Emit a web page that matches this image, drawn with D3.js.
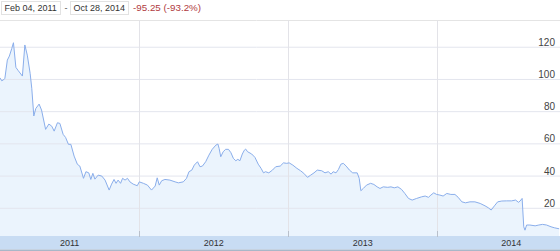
<!DOCTYPE html>
<html>
<head>
<meta charset="utf-8">
<script src="https://cdn.jsdelivr.net/npm/d3@7"></script>
<style>
  body { margin: 0; background: #fff; }
  svg { display: block; font-family: "Liberation Sans", Arial, sans-serif; }
</style>
</head>
<body>
<div id="chart"></div>
<script>
// closing prices
const dates = [
  "2011-01-24","2011-01-28","2011-02-01","2011-02-05","2011-02-11","2011-02-16","2011-02-22","2011-02-26","2011-03-04","2011-03-10",
  "2011-03-20","2011-03-26","2011-04-01","2011-04-08","2011-04-12","2011-04-17","2011-04-22","2011-04-30","2011-05-06","2011-05-16",
  "2011-05-24","2011-05-31","2011-06-06","2011-06-14","2011-06-20","2011-06-28","2011-07-04","2011-07-11","2011-07-17","2011-07-25",
  "2011-08-02","2011-08-08","2011-08-17","2011-08-23","2011-08-30","2011-09-04","2011-09-09","2011-09-14","2011-09-22","2011-10-01",
  "2011-10-09","2011-10-19","2011-10-25","2011-10-31","2011-11-05","2011-11-10","2011-11-16","2011-11-21","2011-11-27","2011-12-03",
  "2011-12-09","2011-12-17","2011-12-27",
  "2012-01-01","2012-01-11","2012-01-21","2012-01-31","2012-02-09","2012-02-14","2012-02-19","2012-02-25","2012-03-04","2012-03-16",
  "2012-03-29","2012-04-06","2012-04-18","2012-04-26","2012-05-02","2012-05-09","2012-05-15","2012-05-23","2012-05-29","2012-06-04",
  "2012-06-12","2012-06-20","2012-06-28","2012-07-07","2012-07-12","2012-07-15","2012-07-19","2012-07-25","2012-07-31","2012-08-07",
  "2012-08-13","2012-08-19","2012-08-25","2012-08-30","2012-09-04","2012-09-10","2012-09-15","2012-09-18","2012-09-23","2012-10-03",
  "2012-10-11","2012-10-19","2012-10-26","2012-11-01","2012-11-06","2012-11-14","2012-11-23","2012-12-01","2012-12-12","2012-12-20",
  "2012-12-28",
  "2013-01-03","2013-01-12","2013-01-22","2013-01-31","2013-02-08","2013-02-17","2013-02-25","2013-03-05","2013-03-13","2013-03-24",
  "2013-04-01","2013-04-09","2013-04-16","2013-04-21","2013-04-28","2013-05-04","2013-05-10","2013-05-16","2013-05-23","2013-05-31",
  "2013-06-08","2013-06-19","2013-06-24","2013-06-28","2013-07-04","2013-07-12","2013-07-22","2013-07-30","2013-08-07","2013-08-14",
  "2013-08-22","2013-09-02","2013-09-10","2013-09-18","2013-09-27","2013-10-06","2013-10-14","2013-10-23","2013-11-01","2013-11-12",
  "2013-11-24","2013-12-03","2013-12-11","2013-12-17","2013-12-24","2013-12-31",
  "2014-01-08","2014-01-16","2014-01-25","2014-02-04","2014-02-14","2014-02-22","2014-03-03","2014-03-12","2014-03-23","2014-04-04",
  "2014-04-17","2014-04-29","2014-05-07","2014-05-14","2014-05-22","2014-05-30","2014-06-09","2014-06-21","2014-07-03","2014-07-13",
  "2014-07-20","2014-07-24","2014-07-29","2014-08-02","2014-08-05","2014-08-09","2014-08-17","2014-08-30","2014-09-08","2014-09-17",
  "2014-09-27","2014-10-08","2014-10-16","2014-10-28"
];
const closes = [
  100.7, 98.9, 99.3, 100.4, 111.7, 114.2, 119.0, 122.5, 107.2, 105.1,
  101.8, 121.1, 114.8, 103.5, 94.2, 77.0, 81.7, 84.4, 80.7, 68.7,
  72.0, 70.7, 67.6, 72.8, 72.4, 65.6, 63.7, 59.4, 59.4, 52.1,
  47.0, 45.9, 38.3, 42.4, 41.7, 37.6, 41.4, 37.8, 40.3, 39.7,
  37.2, 31.0, 34.7, 37.6, 35.2, 37.2, 35.2, 38.3, 37.2, 38.3,
  36.1, 34.7, 33.7,
  36.1, 35.2, 34.1, 31.0, 33.5, 38.6, 34.1, 36.8, 37.6, 37.2,
  36.1, 35.5, 36.1, 38.3, 42.4, 43.4, 46.5, 48.6, 45.5, 45.9,
  48.6, 52.7, 56.3, 58.9, 59.6, 56.9, 51.7, 54.8, 56.3, 56.3,
  54.2, 50.7, 49.2, 50.1, 49.2, 53.4, 55.8, 56.5, 54.8, 53.4,
  51.3, 47.1, 44.5, 41.7, 42.4, 41.7, 43.4, 45.5, 45.9, 47.9,
  47.6,
  47.9, 46.5, 44.5, 43.0, 41.4, 38.9, 40.3, 41.7, 43.4, 43.0,
  41.7, 42.4, 40.9, 42.4, 41.7, 43.8, 47.1, 47.6, 45.9, 43.4,
  41.7, 41.7, 38.3, 30.6, 32.0, 34.1, 35.2, 34.5, 33.0, 32.0,
  33.0, 32.7, 33.0, 32.4, 33.0, 31.4, 28.9, 25.8, 24.8, 25.8,
  26.8, 27.3, 26.5, 27.9, 29.3, 28.3,
  27.9, 27.3, 28.9, 28.3, 28.3, 26.5, 23.7, 23.1, 23.7, 23.7,
  22.7, 21.2, 20.0, 18.6, 21.2, 23.7, 24.2, 24.3, 24.3, 24.8,
  23.4, 24.2, 25.8, 8.2, 6.1, 9.3, 9.3, 8.8, 9.3, 9.7,
  9.3, 8.2, 7.6, 6.95
];
const yTicks = [20, 40, 60, 80, 100, 120];
const years = [2011, 2012, 2013, 2014];
const rangeFrom = "Feb 04, 2011";
const rangeTo = "Oct 28, 2014";
const change = "-95.25 (-93.2%)";

const width = 560, height = 251;
const plotTop = 20.5, bandTop = 236, bandBottom = 249.5;

const parse = d3.timeParse("%Y-%m-%d");
const data = dates.map((d, i) => ({ date: parse(d), value: closes[i] }));

const x = d3.scaleTime()
  .domain([parse("2011-01-24"), parse("2014-10-30")])
  .range([0, width]);

const y = d3.scaleLinear()
  .domain([0, 136.3])
  .range([240, plotTop]);

const svg = d3.select("#chart").append("svg")
  .attr("width", width)
  .attr("height", height);

// header: date range boxes and change
const header = svg.append("g").attr("font-size", "9px");
header.append("rect").attr("x", 1.5).attr("y", 1.5).attr("width", 59).attr("height", 13)
  .attr("fill", "#fff").attr("stroke", "#e2e2e2");
header.append("text").attr("x", 4.5).attr("y", 11.2).attr("fill", "#333").text(rangeFrom);
header.append("text").attr("x", 64.5).attr("y", 11.2).attr("fill", "#555").text("-");
header.append("rect").attr("x", 70.5).attr("y", 1.5).attr("width", 58).attr("height", 13)
  .attr("fill", "#fff").attr("stroke", "#e2e2e2");
header.append("text").attr("x", 73.5).attr("y", 11.2).attr("fill", "#333").text(rangeTo);
header.append("text").attr("x", 133).attr("y", 11.2).attr("font-size", "9.8px")
  .attr("fill", "#b03a3e").text(change);

svg.append("line")
  .attr("x1", 0).attr("x2", width)
  .attr("y1", plotTop).attr("y2", plotTop)
  .attr("stroke", "#e4e4e4");

// area under the line
const area = d3.area()
  .x(d => x(d.date))
  .y0(y(0))
  .y1(d => y(d.value));

svg.append("path")
  .datum(data)
  .attr("fill", "#ebf4fd")
  .attr("d", area);

// horizontal grid
svg.append("g")
  .attr("transform", `translate(${width},0)`)
  .call(d3.axisLeft(y).tickValues(yTicks).tickSize(width).tickFormat(""))
  .call(g => g.select(".domain").remove())
  .call(g => g.selectAll(".tick line").attr("stroke", "#e3e5ee"));

// year separators
const yearStarts = years.slice(1).map(yr => new Date(yr, 0, 1));
svg.selectAll(".year-line")
  .data(yearStarts)
  .enter().append("line")
  .attr("class", "year-line")
  .attr("x1", d => Math.round(x(d)) + 0.5)
  .attr("x2", d => Math.round(x(d)) + 0.5)
  .attr("y1", plotTop)
  .attr("y2", bandTop)
  .attr("stroke", "#e3e3e8");

// price line
const line = d3.line()
  .x(d => x(d.date))
  .y(d => y(d.value));

svg.append("path")
  .datum(data)
  .attr("fill", "none")
  .attr("stroke", "#8aaeeb")
  .attr("stroke-width", 1)
  .attr("stroke-linejoin", "round")
  .attr("d", line);

// y labels on the right, sitting just above the grid lines
svg.append("g")
  .attr("transform", "translate(555,0)")
  .attr("font-size", "9px")
  .call(d3.axisLeft(y).tickValues(yTicks).tickSize(0).tickPadding(0))
  .call(g => g.select(".domain").remove())
  .call(g => g.selectAll("text")
    .attr("dy", "-1.5")
    .attr("fill", "#444")
    .attr("font-family", "Liberation Sans, Arial, sans-serif"));

// x axis band
svg.append("rect")
  .attr("x", 0).attr("y", bandTop)
  .attr("width", width).attr("height", bandBottom - bandTop)
  .attr("fill", "#c8dcf3");
svg.append("rect")
  .attr("x", 0).attr("y", bandBottom)
  .attr("width", width).attr("height", height - bandBottom)
  .attr("fill", "#a9b7c8");

svg.selectAll(".year-tick")
  .data(yearStarts)
  .enter().append("line")
  .attr("class", "year-tick")
  .attr("x1", d => Math.round(x(d)) + 0.5)
  .attr("x2", d => Math.round(x(d)) + 0.5)
  .attr("y1", 231)
  .attr("y2", bandTop + 1)
  .attr("stroke", "#b9c0cb");

svg.selectAll(".year-label")
  .data(years)
  .enter().append("text")
  .attr("class", "year-label")
  .attr("x", yr => {
    const a = Math.max(x(new Date(yr, 0, 1)), 0);
    const b = x(new Date(yr + 1, 0, 1));
    return (a + b) / 2;
  })
  .attr("y", 245.5)
  .attr("text-anchor", "middle")
  .attr("font-size", "9px")
  .attr("fill", "#333")
  .text(yr => yr);
</script>
</body>
</html>
